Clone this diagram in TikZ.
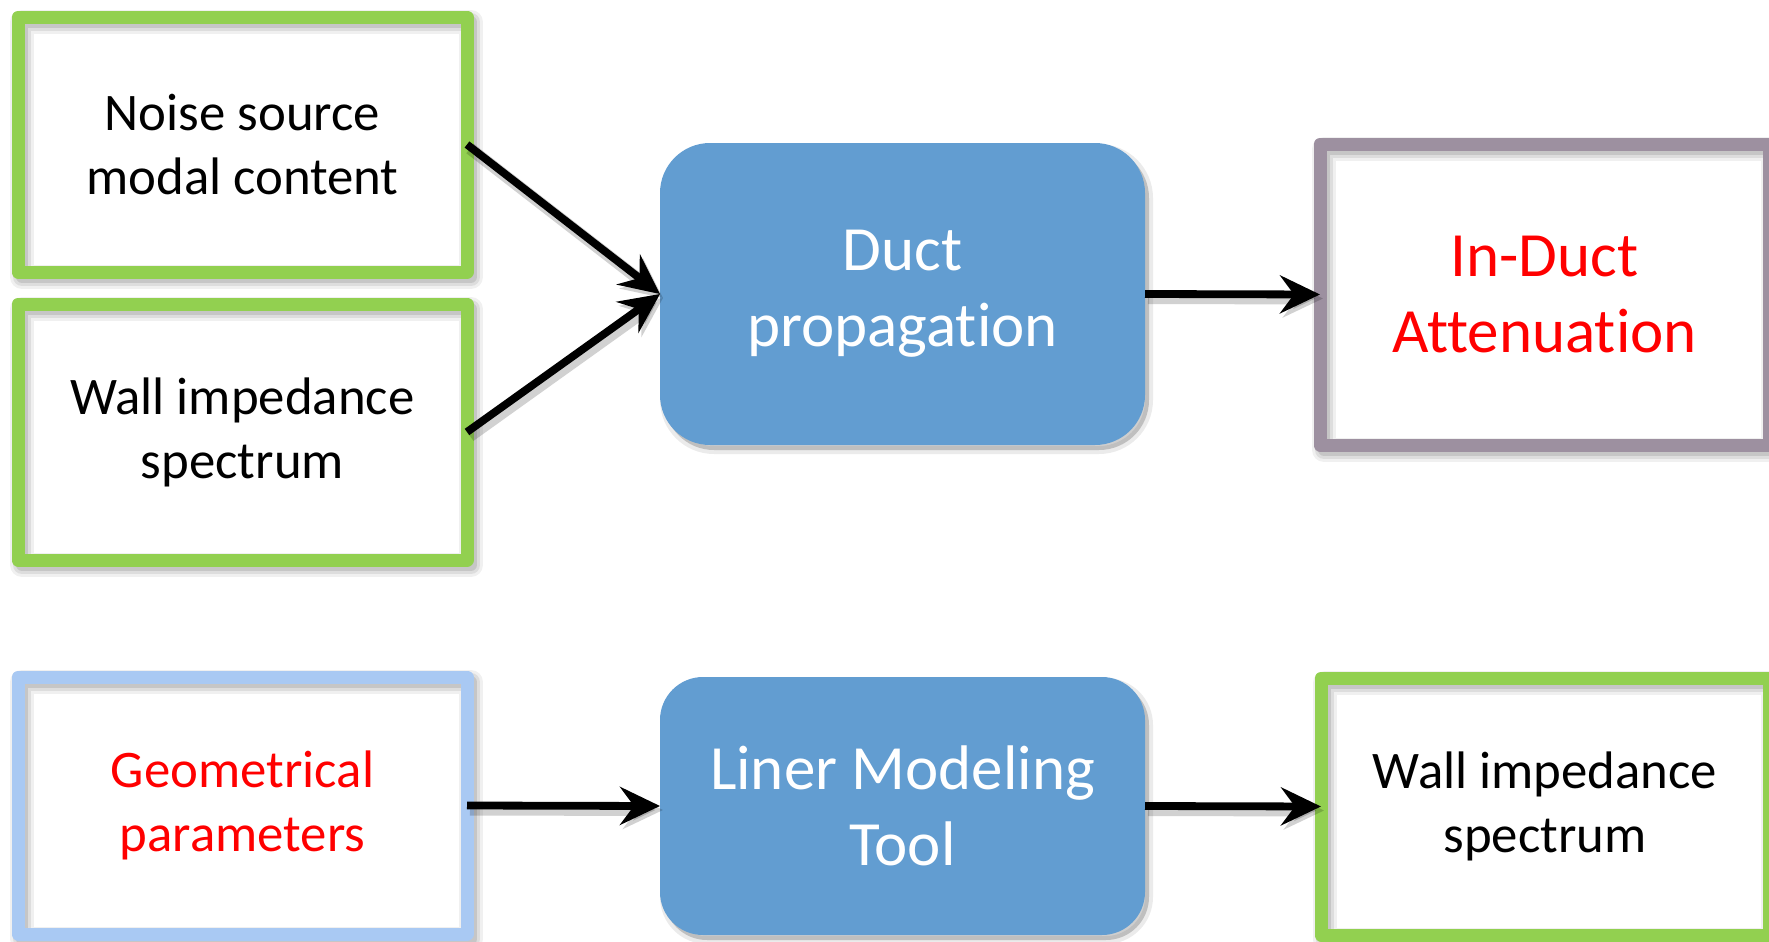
\documentclass[tikz,border=0pt]{standalone}
\usepackage{fontspec}
\setmainfont{Carlito}[Ligatures={TeX,NoCommon}]
\usetikzlibrary{arrows.meta}

\definecolor{framegreen}{HTML}{92D050}
\definecolor{framemauve}{HTML}{9D90A0}
\definecolor{frameblue}{HTML}{A9C9F3}
\definecolor{procblue}{HTML}{629DD1}

\newcommand\boxtextfont{\fontsize{26.4pt}{32pt}\selectfont}
\newcommand\proctextfont{\fontsize{31.5pt}{38pt}\selectfont}

\tikzset{
  softshift/.style={transform canvas={xshift=2pt,yshift=-2.5pt}},
  % open frame with a thick coloured border and a soft drop shadow
  inbox/.style={
    draw=#1, line width=6.5pt, line join=round,
    inner sep=0pt, outer sep=0pt, align=center, font=\boxtextfont,
    preaction={draw=black, opacity=.06, line width=12pt, softshift},
    preaction={draw=black, opacity=.08, line width=9pt, softshift},
    preaction={draw=black, opacity=.10, line width=6pt, softshift}},
  % filled rounded process box
  procbox/.style={
    fill=procblue, draw=none, rounded corners=#1,
    inner sep=0pt, outer sep=0pt, align=center, text=white, font=\proctextfont,
    preaction={fill=black, draw=black, line width=4pt, opacity=.08, softshift},
    preaction={fill=black, opacity=.12, softshift}},
  flow/.style={
    line width=3.9pt,
    -{Stealth[length=20pt,width=19pt,inset=7pt]},
    preaction={draw=black, opacity=.18, line width=6pt,
      transform canvas={xshift=1.5pt,yshift=-2pt}}}
}

\begin{document}
\begin{tikzpicture}[x=0.5pt,y=-0.5pt]
\useasboundingbox (0,0) rectangle (1769,942);
\clip (0,0) rectangle (1769,942);

% inputs of the propagation model
\node[inbox=framegreen, minimum width=224.5pt, minimum height=127.5pt]
  (noise) at (242.5,144.5) {Noise source\\modal content};
\node[inbox=framegreen, minimum width=224.5pt, minimum height=128pt]
  (wallin) at (242.5,432) {Wall impedance\\spectrum};

% propagation model and its result
\node[procbox=25pt, minimum width=242.5pt, minimum height=151pt]
  (duct) at (902.5,294) {Duct\\propagation};
\node[inbox=framemauve, text=red, font=\proctextfont,
  minimum width=224.5pt, minimum height=150.5pt]
  (atten) at (1544.5,294.5) {In-Duct\\Attenuation};

% liner chain
\node[inbox=frameblue, text=red, minimum width=224.5pt, minimum height=128.5pt]
  (geom) at (242.5,805.5) {Geometrical\\parameters};
\node[procbox=21.5pt, minimum width=242.5pt, minimum height=129pt]
  (liner) at (902.5,806) {Liner Modeling\\Tool};
\node[inbox=framegreen, minimum width=224pt, minimum height=128.5pt]
  (wallout) at (1545,806.5) {Wall impedance\\spectrum};

% connectors
\draw[flow] (noise.east) -- (duct.west);
\draw[flow] (wallin.east) -- (duct.west);
\draw[flow] (duct.east) -- (atten.west);
\draw[flow] (geom.east) -- (liner.west);
\draw[flow] (liner.east) -- (wallout.west);
\end{tikzpicture}
\end{document}
